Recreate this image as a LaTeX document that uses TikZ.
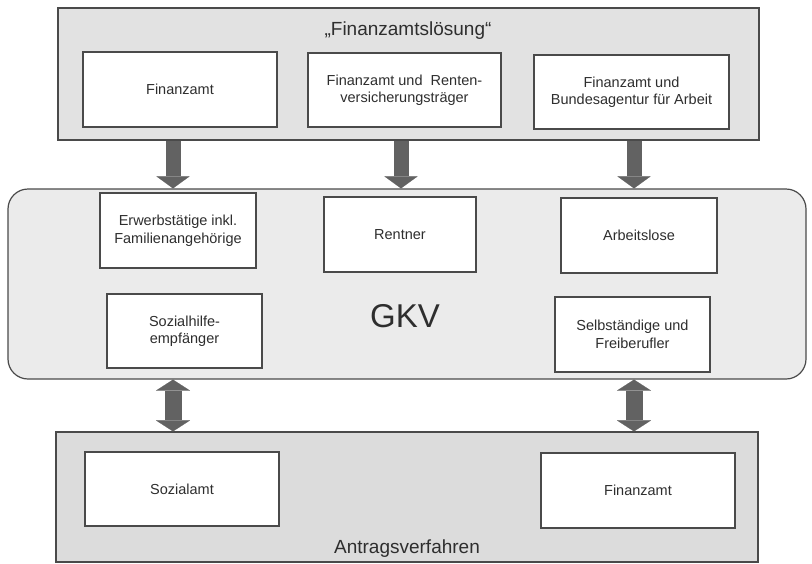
\documentclass[tikz,border=0pt]{standalone}
\usepackage{fontspec}
\setmainfont{Liberation Sans}
\usetikzlibrary{arrows.meta}
\definecolor{edgecol}{HTML}{4A4A4A}
\definecolor{txtcol}{HTML}{2E2E2E}
\definecolor{topfill}{HTML}{E2E2E2}
\definecolor{gkvfill}{HTML}{EBEBEB}
\definecolor{botfill}{HTML}{DCDCDC}
\definecolor{arrcol}{HTML}{626262}
\tikzset{
  panel/.style={draw=edgecol, line width=1.2pt, inner sep=0pt, rectangle},
  whitebox/.style={draw=edgecol, line width=1.2pt, fill=white, inner sep=0pt, rectangle,
    align=center, text=txtcol, font=\fontsize{14.5}{17.5}\selectfont},
  headline/.style={text=txtcol, font=\fontsize{19}{22}\selectfont, inner sep=0pt},
  downarrow/.style={draw=arrcol, line width=15pt,
    -{Triangle[width=33pt,length=12pt,line width=0.1pt]}},
  twoarrow/.style={draw=arrcol, line width=17pt,
    {Triangle[width=34pt,length=11pt,line width=0.1pt]}-{Triangle[width=34pt,length=11pt,line width=0.1pt]}}
}
\begin{document}
\begin{tikzpicture}[x=1pt,y=-1pt]
\useasboundingbox (0,0) rectangle (812,563);

% top panel
\node[panel, fill=topfill, minimum width=701pt, minimum height=132pt] (topP) at (408.5,74) {};
\node[headline] (title) at (408,31) {„Finanzamtslösung“};
\node[whitebox, minimum width=194pt, minimum height=75pt] (f1) at (180,89.5) {Finanzamt};
\node[whitebox, minimum width=193pt, minimum height=74pt] (f2) at (404.5,90) {Finanzamt und\ \ Renten-\\versicherungsträger};
\node[whitebox, minimum width=195pt, minimum height=74pt] (f3) at (631.5,92) {Finanzamt und\\Bundesagentur für Arbeit};

% GKV
\node[panel, fill=gkvfill, rounded corners=20pt, minimum width=798pt, minimum height=190pt] (gkv) at (407,284) {};
\node[whitebox, minimum width=156pt, minimum height=75pt] (e1) at (178,230.5) {Erwerbstätige inkl.\\Familienangehörige};
\node[whitebox, minimum width=152pt, minimum height=75pt] (e2) at (400,234.5) {Rentner};
\node[whitebox, minimum width=156pt, minimum height=75pt] (e3) at (639,235.5) {Arbeitslose};
\node[whitebox, minimum width=155pt, minimum height=74pt] (s1) at (184.5,331) {Sozialhilfe-\\empfänger};
\node[whitebox, minimum width=155pt, minimum height=75pt] (s2) at (632.5,334.5) {Selbständige und\\Freiberufler};
\node[text=txtcol, font=\fontsize{33}{38}\selectfont, inner sep=0pt] (gkvlabel) at (405,316) {GKV};

% bottom panel
\node[panel, fill=botfill, minimum width=702pt, minimum height=130pt] (botP) at (407,497) {};
\node[whitebox, minimum width=194pt, minimum height=74pt] (b1) at (182,489) {Sozialamt};
\node[whitebox, minimum width=194pt, minimum height=75pt] (b2) at (638,490.5) {Finanzamt};
\node[headline] (antrag) at (407,549) {Antragsverfahren};

% arrow columns
\coordinate (c1) at (173,0);
\coordinate (c2) at (401,0);
\coordinate (c3) at (634,0);

\draw[downarrow] ([yshift=-0.6pt]topP.south -| c1) -- (gkv.north -| c1);
\draw[downarrow] ([yshift=-0.6pt]topP.south -| c2) -- (gkv.north -| c2);
\draw[downarrow] ([yshift=-0.6pt]topP.south -| c3) -- (gkv.north -| c3);

\draw[twoarrow] (gkv.south -| c1) -- (botP.north -| c1);
\draw[twoarrow] (gkv.south -| c3) -- (botP.north -| c3);
\end{tikzpicture}
\end{document}
